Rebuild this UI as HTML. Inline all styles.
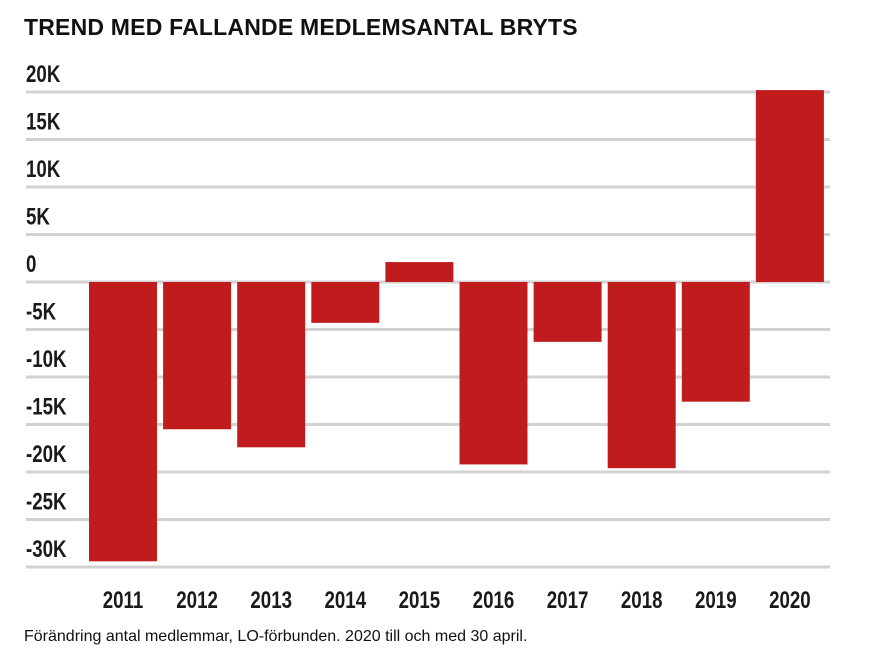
<!DOCTYPE html>
<html><head><meta charset="utf-8"><style>
body{margin:0;background:#fff;width:875px;height:661px;overflow:hidden;font-family:"Liberation Sans",sans-serif}
#title{position:absolute;left:24px;top:14px;font-size:23px;font-weight:bold;color:#111;letter-spacing:0.2px}
#note{position:absolute;left:24px;top:628px;font-size:16px;color:#111}
svg{position:absolute;left:0;top:0}
.tk{font-family:"Liberation Sans Narrow","Liberation Sans",sans-serif;font-weight:bold;font-size:24px;fill:#1a1a1a}
</style></head><body>
<div id="title">TREND MED FALLANDE MEDLEMSANTAL BRYTS</div>
<svg id="chart" width="875" height="661"></svg>
<div id="note">Förändring antal medlemmar, LO-förbunden. 2020 till och med 30 april.</div>
<script>
const categories=["2011","2012","2013","2014","2015","2016","2017","2018","2019","2020"];
const values=[-29400,-15500,-17400,-4300,2100,-19200,-6300,-19600,-12600,20200];
const ticks=[20000,15000,10000,5000,0,-5000,-10000,-15000,-20000,-25000,-30000];
const tickLabels=["20K","15K","10K","5K","0","-5K","-10K","-15K","-20K","-25K","-30K"];
const NS="http://www.w3.org/2000/svg";
const svg=document.getElementById('chart');
const y=v=>282-v*0.0095;
const x0=89,step=74.1,bw=68;
const x=i=>x0+i*step;
function mk(t,a){const e=document.createElementNS(NS,t);for(const k in a)e.setAttribute(k,a[k]);svg.appendChild(e);return e;}
ticks.forEach((t,i)=>{
  const l=mk('rect',{x:26,y:y(t)-1.5,width:804,height:3,fill:'#d2d2d2'});
  
  
  const tx=mk('text',{x:26,y:y(t)-10,class:'tk',transform:`translate(26,0) scale(0.78,1) translate(-26,0)`});
  tx.textContent=tickLabels[i];
  
  
});
values.forEach((v,i)=>{
  const top=Math.min(y(v),y(0)),h=Math.abs(y(v)-y(0));
  const r=mk('rect',{x:x(i),y:top,width:bw,height:h,fill:'#c01c1e'});
  
  
  const cx=x(i)+bw/2;
  const tx=mk('text',{x:cx,y:608,class:'tk','text-anchor':'middle',transform:`translate(${cx},0) scale(0.78,1) translate(${-cx},0)`});
  tx.textContent=categories[i];
  
  
});
</script>
</body></html>
